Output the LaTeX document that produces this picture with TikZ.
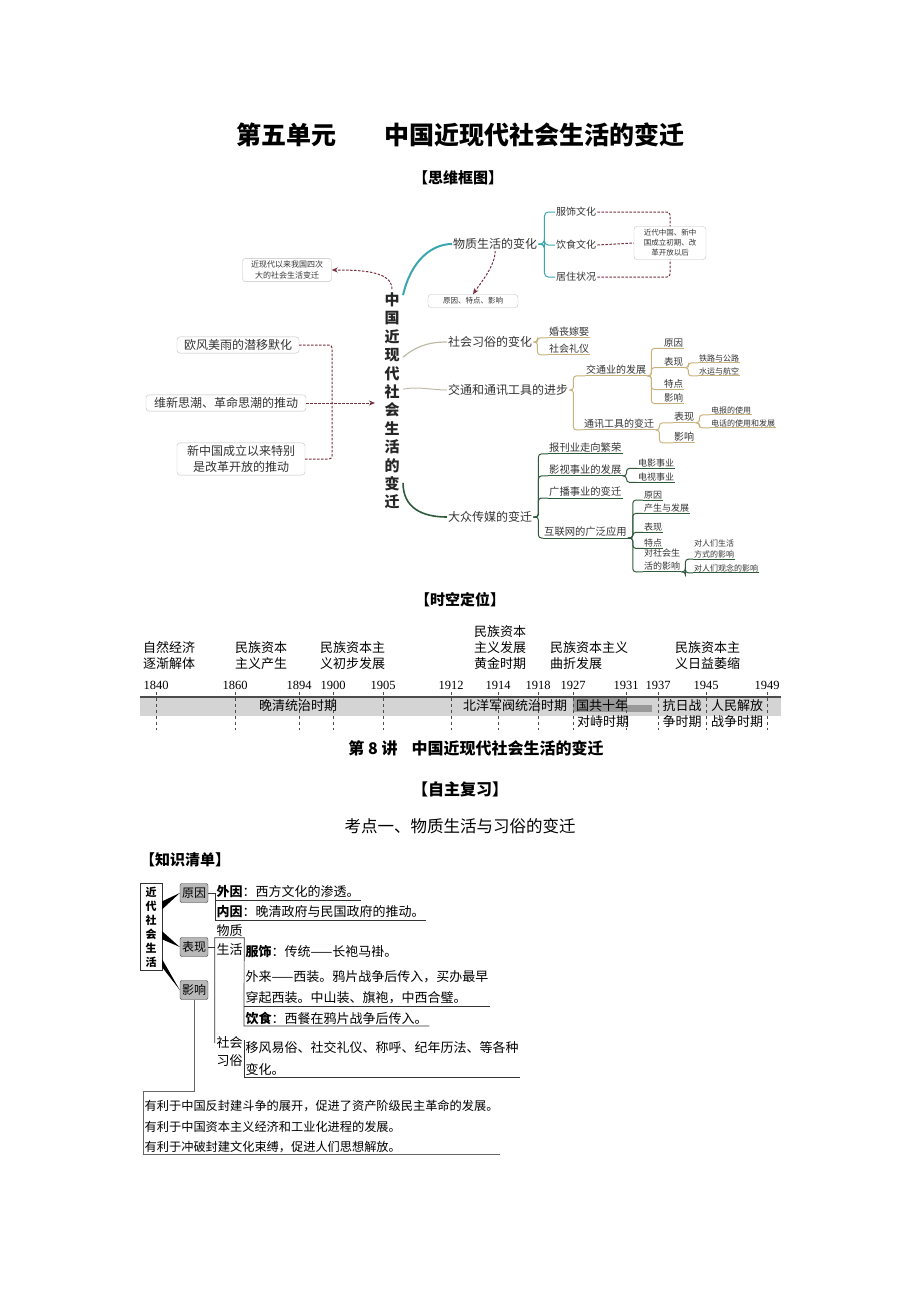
\documentclass[tikz,border=0pt]{standalone}
\usepackage{fontspec}
\setmainfont{Noto Sans CJK SC}
\newfontfamily\yearfont{Liberation Serif}
\usetikzlibrary{arrows.meta}
\newcommand{\fsz}[2]{\fontsize{#1}{#2}\selectfont}
\definecolor{linkred}{HTML}{7A3040}
\definecolor{wzteal}{HTML}{3AA6B0}
\definecolor{xsgray}{HTML}{BDBBA8}
\definecolor{jttan}{HTML}{C8B27E}
\definecolor{cmgreen}{HTML}{2F5A3C}
\definecolor{bargray}{HTML}{D4D4D4}

\begin{document}
\begin{tikzpicture}[x=1pt,y=-1pt,
    mm/.style={text=black!80, inner sep=1pt},
    mmbox/.style={mm, draw=black!25, rounded corners=3pt, inner sep=2.5pt},
    dashlink/.style={draw=linkred, dash pattern=on 2.5pt off 1.5pt, line width=1pt},
    wzline/.style={draw=wzteal, line width=1pt},
    xsline/.style={draw=xsgray, line width=1pt},
    jtline/.style={draw=jttan, line width=1pt},
    cmline/.style={draw=cmgreen, line width=1pt},
    lbl/.style={anchor=south west, align=left, font=\fsz{13}{16}, inner sep=0pt},
    yr/.style={font=\yearfont\fsz{12.5}{15}, inner sep=0pt},
    yeartick/.style={draw=black!70, dashed, line width=0.6pt},
    prd/.style={font=\fsz{13}{15}, inner sep=0pt},
    hd/.style={font=\bfseries\fsz{16}{18}},
    kbtn/.style={draw=black!80, fill=black!28, rounded corners=2pt, font=\fsz{12}{14}, inner sep=2pt, minimum height=19pt},
    kitem/.style={anchor=west, font=\fsz{13}{15}, inner sep=1.5pt},
    kline/.style={draw=black!80, line width=0.7pt}]
\useasboundingbox (0,0) rectangle (920,1302);

% headings
\node[font=\bfseries\fsz{25}{28}] (title) at (460,135) {第五单元\hspace{48pt}中国近现代社会生活的变迁};
\node[font=\bfseries\fsz{15}{18}] (siwei) at (458,178) {【思维框图】};

% mind map: centre and left side
\node[font=\bfseries\fsz{15}{18.4}, align=center, text=black!85] (core) at (392,401) {中\\国\\近\\现\\代\\社\\会\\生\\活\\的\\变\\迁};
\node[mmbox, font=\fsz{8}{11}, align=center, minimum width=89pt, minimum height=23pt] (sici) at (287,270) {近现代以来我国四次\\大的社会生活变迁};
\node[mmbox, font=\fsz{12}{15}, inner xsep=7pt] (oufeng) at (238,345) {欧风美雨的潜移默化};
\node[mmbox, font=\fsz{12}{15}, inner xsep=8pt] (weixin) at (226,403) {维新思潮、革命思潮的推动};
\node[mmbox, font=\fsz{12}{16}, align=center, inner xsep=10pt] (xinzg) at (241,459) {新中国成立以来特别\\是改革开放的推动};
\coordinate (hui) at (332,403);
\draw[dashlink, rounded corners=3pt] (oufeng.east) -| (hui);
\draw[dashlink, rounded corners=3pt] (xinzg.east) -| (hui);
\draw[dashlink, -{Stealth[length=6pt,width=5pt]}] (weixin.east) -- ([xshift=-6pt]core.west |- weixin.east);
\draw[dashlink, -{Stealth[length=6pt,width=5pt]}] (core.north) .. controls +(0,-18) and +(30,0) .. (sici.east);

% branch 1
\node[mm, font=\fsz{12}{14}, anchor=west] (wuzhi) at (452,244) {物质生活的变化};
\draw[wzline, line width=2pt] ([yshift=-6pt]core.north east) .. controls +(8,-35) and +(-20,0) .. (wuzhi.west);
\node[mm, font=\fsz{10}{12}, anchor=west] (fushi) at (555,212) {服饰文化};
\node[mm, font=\fsz{10}{12}, anchor=west] (yinshi) at (555,245) {饮食文化};
\node[mm, font=\fsz{10}{12}, anchor=west] (juzhu) at (555,277) {居住状况};
\foreach \n in {fushi,yinshi,juzhu}
  \draw[wzline, rounded corners=4pt] (wuzhi.east) -- ++(6,0) |- (\n.west);
\node[mmbox, font=\fsz{7.5}{10}, align=center, minimum width=72pt, minimum height=33pt] (shiqi) at (670,243) {近代中国、新中\\国成立初期、改\\革开放以后};
\draw[dashlink, rounded corners=3pt] (fushi.east) -| (shiqi.north);
\draw[dashlink] (yinshi.east) -- (shiqi.west);
\draw[dashlink, rounded corners=3pt] (juzhu.east) -| (shiqi.south);
\node[mmbox, font=\fsz{7.5}{9}, minimum width=90pt, minimum height=13pt] (tedian) at (473,301) {原因、特点、影响};
\draw[dashlink, -{Stealth[length=6pt,width=5pt]}] (wuzhi.south) .. controls +(0,15) and +(8,-12) .. (tedian.north);

% branch 2
\node[mm, font=\fsz{12}{14}, anchor=west] (xisu) at (447,342) {社会习俗的变化};
\draw[xsline, line width=1.2pt] ([yshift=-68pt]core.north east) .. controls +(12,-10) and +(-20,0) .. (xisu.west);
\node[mm, font=\fsz{10}{12}, anchor=west] (hunsang) at (548,332) {婚丧嫁娶};
\node[mm, font=\fsz{10}{12}, anchor=west] (liyi) at (548,349) {社会礼仪};
\foreach \n in {hunsang,liyi} {
  \draw[jtline, rounded corners=3pt] (xisu.east) -- ++(4,0) |- (\n.south west);
  \draw[jtline] (\n.south west) -- (\n.south east);
}

% branch 3
\node[mm, font=\fsz{12}{14}, anchor=west] (jiaotong) at (447,390) {交通和通讯工具的进步};
\draw[xsline] ([yshift=-100pt]core.north east) .. controls +(15,-3) and +(-15,0) .. (jiaotong.west);
\node[mm, font=\fsz{10}{12}, anchor=west] (jtfz) at (585,370) {交通业的发展};
\node[mm, font=\fsz{10}{12}, anchor=west] (txgj) at (583,424) {通讯工具的变迁};
\foreach \n in {jtfz,txgj} {
  \draw[jtline, rounded corners=3pt] (jiaotong.east) -- ++(4,0) |- (\n.south west);
  \draw[jtline] (\n.south west) -- (\n.south east);
}
\node[mm, font=\fsz{9.5}{11}, anchor=west] (jtyy) at (663,343) {原因};
\node[mm, font=\fsz{9.5}{11}, anchor=west] (jtbx) at (663,362) {表现};
\node[mm, font=\fsz{9.5}{11}, anchor=west] (jttd) at (663,384) {特点};
\node[mm, font=\fsz{9.5}{11}, anchor=west] (jtyx) at (663,398) {影响};
\foreach \n in {jtyy,jtbx,jttd,jtyx} {
  \draw[jtline, rounded corners=3pt] (jtfz.south east) -- ++(4,0) |- (\n.south west);
  \draw[jtline] (\n.south west) -- (\n.south east);
}
\node[mm, font=\fsz{8}{10}, anchor=west] (tielu) at (698,358) {铁路与公路};
\node[mm, font=\fsz{8}{10}, anchor=west] (shuiyun) at (698,371) {水运与航空};
\foreach \n in {tielu,shuiyun} {
  \draw[jtline, rounded corners=3pt] (jtbx.south east) -- ++(4,0) |- (\n.south west);
  \draw[jtline] (\n.south west) -- (\n.south east);
}
\node[mm, font=\fsz{10}{12}, anchor=west] (txbx) at (673,417) {表现};
\node[mm, font=\fsz{10}{12}, anchor=west] (txyx) at (673,437) {影响};
\foreach \n in {txbx,txyx} {
  \draw[jtline, rounded corners=3pt] (txgj.south east) -- ++(4,0) |- (\n.south west);
  \draw[jtline] (\n.south west) -- (\n.south east);
}
\node[mm, font=\fsz{8}{10}, anchor=west] (dianbao) at (710,410) {电报的使用};
\node[mm, font=\fsz{8}{10}, anchor=west] (dianhua) at (710,423) {电话的使用和发展};
\foreach \n in {dianbao,dianhua} {
  \draw[jtline, rounded corners=3pt] (txbx.south east) -- ++(4,0) |- (\n.south west);
  \draw[jtline] (\n.south west) -- (\n.south east);
}

% branch 4
\node[mm, font=\fsz{12}{14}, anchor=west] (chuanmei) at (447,517) {大众传媒的变迁};
\draw[cmline, line width=1.6pt] ([yshift=30pt]core.south east) .. controls +(0,25) and +(-25,0) .. (chuanmei.west);
\node[mm, font=\fsz{10.3}{12}, anchor=west] (baokan) at (548,448) {报刊业走向繁荣};
\node[mm, font=\fsz{10.3}{12}, anchor=west] (yingshi) at (548,470) {影视事业的发展};
\node[mm, font=\fsz{10.3}{12}, anchor=west] (guangbo) at (548,492) {广播事业的变迁};
\node[mm, font=\fsz{10.3}{12}, anchor=west] (hulian) at (543,532) {互联网的广泛应用};
\foreach \n in {baokan,yingshi,guangbo,hulian} {
  \draw[cmline, rounded corners=3pt] (chuanmei.east) -- ++(5,0) |- (\n.south west);
  \draw[cmline] (\n.south west) -- (\n.south east);
}
\node[mm, font=\fsz{9}{11}, anchor=west] (dianying) at (637,463) {电影事业};
\node[mm, font=\fsz{9}{11}, anchor=west] (dianshi) at (637,477) {电视事业};
\foreach \n in {dianying,dianshi} {
  \draw[cmline, rounded corners=3pt] (yingshi.south east) -- ++(4,0) |- (\n.south west);
  \draw[cmline] (\n.south west) -- (\n.south east);
}
\node[mm, font=\fsz{9}{11}, anchor=west] (hyy) at (643,495) {原因};
\node[mm, font=\fsz{9}{11}, anchor=west] (hcs) at (643,508) {产生与发展};
\node[mm, font=\fsz{9}{11}, anchor=west] (hbx) at (643,527) {表现};
\node[mm, font=\fsz{9}{11}, anchor=west] (htd) at (643,543) {特点};
\node[mm, font=\fsz{9}{13}, anchor=west, align=left] (hyx) at (643,560) {对社会生\\活的影响};
\foreach \n in {hyy,hcs,hbx,htd,hyx} {
  \draw[cmline, rounded corners=3pt] (hulian.south east) -- ++(5,0) |- (\n.south west);
  \draw[cmline] (\n.south west) -- (\n.south east);
}
\node[mm, font=\fsz{8}{10.5}, anchor=west, align=left] (hsh) at (693,549) {对人们生活\\方式的影响};
\node[mm, font=\fsz{8}{10}, anchor=west] (hgn) at (693,568) {对人们观念的影响};
\foreach \n in {hsh,hgn} {
  \draw[cmline, rounded corners=3pt] (hyx.south east) -- ++(4,0) |- (\n.south west);
  \draw[cmline] (\n.south west) -- (\n.south east);
}

% time line
\node[font=\bfseries\fsz{15}{18}] (shikong) at (460,600) {【时空定位】};
\node[lbl] (jj1) at (143,670) {自然经济\\逐渐解体};
\node[lbl] (jj2) at (235,670) {民族资本\\主义产生};
\node[lbl] (jj3) at (320,670) {民族资本主\\义初步发展};
\node[lbl] (jj4) at (474,670) {民族资本\\主义发展\\黄金时期};
\node[lbl] (jj5) at (550,670) {民族资本主义\\曲折发展};
\node[lbl] (jj6) at (675,670) {民族资本主\\义日益萎缩};
\fill[bargray] (140,697) rectangle (781,716);
\fill[black!40] (573,698) rectangle (627,712);
\fill[black!40] (627,705) rectangle (652,712);
\draw[black!70, line width=1.2pt] (140,697) -- (781,697);
\foreach \yy/\xx in {1840/156,1860/235,1894/299,1900/333,1905/383,1912/451,1914/498,1918/538,1927/573,1931/626,1937/658,1945/706,1949/767} {
  \node[yr] (y\yy) at (\xx,685) {\yy};
  \draw[yeartick] (\xx,692) -- (\xx,730);
}
\node[prd] (wanqing) at (298,706) {晚清统治时期};
\node[prd] (beiyang) at (515,706) {北洋军阀统治时期};
\node[prd] (guogong) at (602,706) {国共十年};
\node[prd] (duizhi) at (603,722) {对峙时期};
\node[prd] (kangri) at (682,706) {抗日战};
\node[prd] (kangri2) at (682,722) {争时期};
\node[prd] (jiefang) at (737,706) {人民解放};
\node[prd] (jiefang2) at (737,722) {战争时期};

\node[hd] (jiang) at (476,748) {第 8 讲\hspace{14pt}中国近现代社会生活的变迁};
\node[hd] (zizhu) at (460,789) {【自主复习】};
\node[font=\fsz{16.5}{18}] (kaodian) at (460,826) {考点一、物质生活与习俗的变迁};
\node[font=\bfseries\fsz{15}{18}, anchor=west, inner sep=0pt] (qingdan) at (140,860) {【知识清单】};

% knowledge list
\node[draw=black!80, font=\bfseries\fsz{11}{14}, align=center, inner sep=3pt, minimum width=22pt, minimum height=87pt] (jindai) at (151,927) {近\\代\\社\\会\\生\\活};
\node[kbtn] (yuanyin) at (194,893) {原因};
\node[kbtn] (biaoxian) at (194,947) {表现};
\node[kbtn] (yingxiang) at (194,990) {影响};
\fill[black] ([yshift=-18pt]jindai.north east) -- ([yshift=-26pt]jindai.north east) -- (yuanyin.west) -- cycle;
\fill[black] ([yshift=-48pt]jindai.north east) -- ([yshift=-56pt]jindai.north east) -- (biaoxian.west) -- cycle;
\fill[black] ([yshift=-76pt]jindai.north east) -- ([yshift=-84pt]jindai.north east) -- (yingxiang.west) -- cycle;

\node[kitem] (waiyin) at (215,892) {\textbf{外因}：西方文化的渗透。};
\node[kitem] (neiyin) at (215,912) {\textbf{内因}：晚清政府与民国政府的推动。};
\draw[kline] (yuanyin.east) -| (neiyin.south west) -- (neiyin.south east);
\draw[kline] (waiyin.south west) -- (waiyin.south east);

\node[font=\fsz{13}{15}, inner sep=0pt] (wuzhi2) at (229.5,931) {物质};
\node[font=\fsz{13}{15}, inner sep=0pt, minimum width=29pt, minimum height=24pt] (shenghuo) at (229.5,950) {生活};
\node[kitem] (fushi2) at (244,952) {\textbf{服饰}：传统——长袍马褂。};
\node[kitem] (wailai) at (244,977) {外来——西装。鸦片战争后传入，买办最早};
\node[kitem] (chuanqi) at (244,998) {穿起西装。中山装、旗袍，中西合璧。};
\node[kitem] (yinshi2) at (244,1018) {\textbf{饮食}：西餐在鸦片战争后传入。};
\node[font=\fsz{13}{15}, inner sep=0pt, minimum width=29pt] (shehui) at (229.5,1043) {社会};
\node[font=\fsz{13}{15}, inner sep=0pt] (xisu2) at (229.5,1061) {习俗};
\node[kitem] (yifeng) at (244,1048) {移风易俗、社交礼仪、称呼、纪年历法、等各种};
\node[kitem] (bianhua) at (244,1070) {变化。};
\draw[kline] (biaoxian.east) -- (biaoxian.east -| shenghuo.west);
\draw[kline] (shehui.west) -- (shenghuo.north west) -- (shenghuo.north east) -- (yinshi2.south west) -- (yinshi2.south east);
\draw[kline] (chuanqi.south west) -- (wailai.south east |- chuanqi.south);
\draw[kline] (yifeng.north west) -- (bianhua.south west) -- (yifeng.south east |- bianhua.south);

\node[kitem, font=\fsz{12.2}{14}] (yl1) at (143,1106) {有利于中国反封建斗争的展开，促进了资产阶级民主革命的发展。};
\node[kitem, font=\fsz{12.2}{14}] (yl2) at (143,1127) {有利于中国资本主义经济和工业化进程的发展。};
\node[kitem, font=\fsz{12.2}{14}] (yl3) at (143,1147) {有利于冲破封建文化束缚，促进人们思想解放。};
\draw[kline, draw=black!60] (yingxiang.south) -- ++(0,92) -| (yl3.south west) -- (yl1.south east |- yl3.south);
\end{tikzpicture}
\end{document}
